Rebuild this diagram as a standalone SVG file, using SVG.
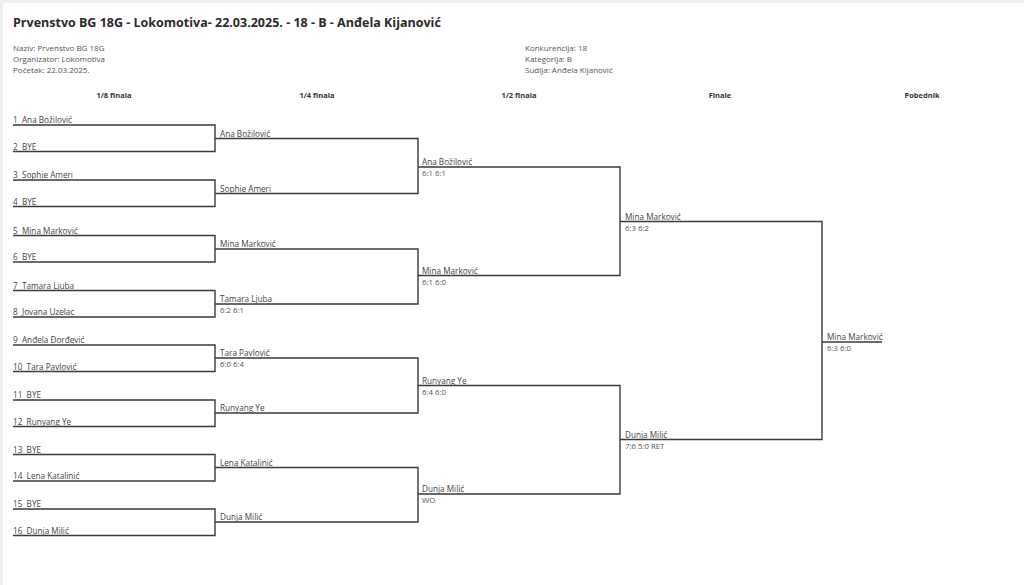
<svg xmlns="http://www.w3.org/2000/svg" width="1024" height="585" viewBox="0 0 1024 585">
<style>
text{font-family:"Open Sans","Noto Sans","Liberation Sans",sans-serif;}
.title{font-size:12.5px;font-weight:700;fill:#2a2a2a;}
.info{font-size:8px;fill:#555;}
.hdr{font-size:7.5px;font-weight:700;fill:#333;text-anchor:middle;}
.nm{font-size:8.2px;fill:#444;white-space:pre;}
.sc{font-size:7.8px;fill:#555;}
.ln{fill:none;stroke:#3a3a3a;stroke-width:1.4;}
</style>
<rect x="0" y="0" width="1024" height="585" fill="#f0f0f0"/>
<rect x="3" y="3" width="1021" height="582" fill="#ffffff"/>
<g id="header">
<text class="title" x="13" y="26.5">Prvenstvo BG 18G - Lokomotiva- 22.03.2025. - 18 - B - Anđela Kijanović</text>
<text class="info" x="13" y="51">Naziv: Prvenstvo BG 18G</text>
<text class="info" x="13" y="62">Organizator: Lokomotiva</text>
<text class="info" x="13" y="73">Početak: 22.03.2025.</text>
<text class="info" x="525" y="51">Konkurencija: 18</text>
<text class="info" x="525" y="62">Kategorija: B</text>
<text class="info" x="525" y="73">Sudija: Anđela Kijanović</text>
<text class="hdr" x="114" y="97.5">1/8 finala</text>
<text class="hdr" x="317" y="97.5">1/4 finala</text>
<text class="hdr" x="519" y="97.5">1/2 finala</text>
<text class="hdr" x="720" y="97.5">Finale</text>
<text class="hdr" x="922" y="97.5">Pobednik</text>
</g>
<g id="connectors" class="ln">
<path d="M13 125H215V151.5H13"/>
<path d="M13 180H215V206.5H13"/>
<path d="M13 235.5H215V262H13"/>
<path d="M13 290.5H215V317H13"/>
<path d="M13 345H215V371.5H13"/>
<path d="M13 400H215V426.5H13"/>
<path d="M13 454.5H215V481H13"/>
<path d="M13 509H215V535.5H13"/>
<path d="M215 138.5H418V193.5H215"/>
<path d="M215 249H418V304H215"/>
<path d="M215 358H418V413H215"/>
<path d="M215 467.5H418V522H215"/>
<path d="M418 167H620V275.5H418"/>
<path d="M418 385.5H620V494H418"/>
<path d="M620 221.5H822V439.5H620"/>
<path d="M822 342H882"/>
</g>
<g id="round1">
<text class="nm" x="13" y="123">1  Ana Božilović</text>
<text class="nm" x="13" y="149.5">2  BYE</text>
<text class="nm" x="13" y="178">3  Sophie Ameri</text>
<text class="nm" x="13" y="204.5">4  BYE</text>
<text class="nm" x="13" y="233.5">5  Mina Marković</text>
<text class="nm" x="13" y="260">6  BYE</text>
<text class="nm" x="13" y="288.5">7  Tamara Ljuba</text>
<text class="nm" x="13" y="315">8  Jovana Uzelac</text>
<text class="nm" x="13" y="343">9  Anđela Đorđević</text>
<text class="nm" x="13" y="369.5">10  Tara Pavlović</text>
<text class="nm" x="13" y="398">11  BYE</text>
<text class="nm" x="13" y="424.5">12  Runyang Ye</text>
<text class="nm" x="13" y="452.5">13  BYE</text>
<text class="nm" x="13" y="479">14  Lena Katalinić</text>
<text class="nm" x="13" y="507">15  BYE</text>
<text class="nm" x="13" y="533.5">16  Dunja Milić</text>
</g>
<g id="round2">
<text class="nm" x="220" y="136.5">Ana Božilović</text>
<text class="nm" x="220" y="191.5">Sophie Ameri</text>
<text class="nm" x="220" y="247">Mina Marković</text>
<text class="nm" x="220" y="302">Tamara Ljuba</text>
<text class="sc" x="220" y="312.5">6:2 6:1</text>
<text class="nm" x="220" y="356">Tara Pavlović</text>
<text class="sc" x="220" y="366.5">6:0 6:4</text>
<text class="nm" x="220" y="411">Runyang Ye</text>
<text class="nm" x="220" y="465.5">Lena Katalinić</text>
<text class="nm" x="220" y="520">Dunja Milić</text>
</g>
<g id="round3">
<text class="nm" x="422" y="165">Ana Božilović</text>
<text class="sc" x="422" y="176">6:1 6:1</text>
<text class="nm" x="422" y="273.5">Mina Marković</text>
<text class="sc" x="422" y="284.5">6:1 6:0</text>
<text class="nm" x="422" y="383.5">Runyang Ye</text>
<text class="sc" x="422" y="394.5">6:4 6:0</text>
<text class="nm" x="422" y="492">Dunja Milić</text>
<text class="sc" x="422" y="503">WO</text>
</g>
<g id="final">
<text class="nm" x="625" y="219.5">Mina Marković</text>
<text class="sc" x="625" y="230.5">6:3 6:2</text>
<text class="nm" x="625" y="437.5">Dunja Milić</text>
<text class="sc" x="625" y="448.5">7:6 5:0 RET</text>
</g>
<g id="winner">
<text class="nm" x="827" y="340">Mina Marković</text>
<text class="sc" x="827" y="351">6:3 6:0</text>
</g>
</svg>
